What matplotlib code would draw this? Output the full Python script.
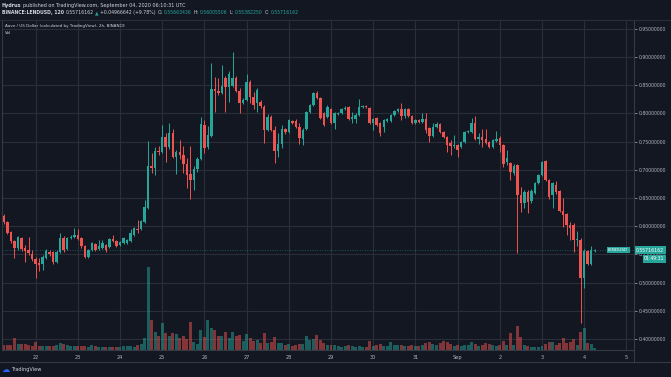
import matplotlib
matplotlib.use("Agg")
import matplotlib.pyplot as plt
import matplotlib.dates as mdates
from matplotlib.lines import Line2D
from matplotlib.transforms import blended_transform_factory
import pandas as pd

# -- 2h candles, LEND/USD (Binance), 21 Aug 06:00 -> 4 Sep 06:00
opens = [.618, .607, .590, .574, .561, .579, .561, .558, .551, .542,
         .535, .533, .544, .554, .554, .537, .554, .579, .560, .579,
         .581, .584, .579, .565, .545, .558, .569, .560, .561, .567,
         .563, .577, .574, .567, .570, .570, .574, .584, .595, .595,
         .607, .632, .707, .703, .733, .732, .758, .741, .765, .723,
         .732, .726, .710, .693, .682, .701, .719, .780, .741, .760,
         .843, .840, .836, .863, .847, .849, .863, .840, .818, .824,
         .856, .829, .818, .820, .811, .771, .794, .771, .733, .746,
         .772, .767, .787, .787, .776, .755, .772, .803, .815, .836,
         .827, .801, .794, .808, .783, .799, .801, .808, .811, .790,
         .790, .797, .811, .813, .810, .783, .792, .783, .776, .787,
         .787, .797, .804, .808, .795, .808, .795, .783, .788, .785,
         .790, .774, .760, .776, .781, .767, .758, .748, .742, .744,
         .741, .749, .767, .767, .783, .755, .758, .755, .749, .741,
         .751, .756, .744, .714, .712, .694, .709, .655, .641, .661,
         .645, .659, .677, .691, .716, .682, .655, .673, .662, .627,
         .622, .602, .602, .576, .576, .508, .556, .533, .5566]
closes = [.607, .588, .574, .561, .581, .560, .556, .553, .542, .533,
          .531, .545, .556, .551, .537, .554, .579, .558, .579, .581,
          .584, .577, .565, .545, .558, .570, .558, .565, .570, .558,
          .577, .574, .565, .572, .579, .576, .588, .597, .593, .609,
          .634, .707, .703, .733, .732, .758, .741, .765, .723, .732,
          .726, .710, .691, .682, .701, .719, .781, .739, .762, .843,
          .840, .836, .849, .847, .870, .863, .840, .818, .824, .856,
          .829, .815, .842, .813, .771, .794, .771, .733, .746, .772,
          .767, .788, .783, .776, .756, .771, .803, .815, .836, .827,
          .792, .780, .811, .783, .801, .801, .808, .810, .790, .794,
          .797, .811, .813, .811, .783, .790, .780, .765, .788, .790,
          .797, .804, .808, .795, .808, .795, .783, .788, .785, .790,
          .771, .760, .776, .781, .767, .758, .744, .742, .744, .735,
          .749, .767, .769, .783, .755, .758, .753, .748, .741, .753,
          .755, .744, .710, .721, .696, .707, .655, .641, .661, .643,
          .662, .677, .691, .714, .682, .652, .677, .661, .627, .620,
          .602, .597, .576, .577, .508, .556, .533, .558, .5572]
highs = [.622, .609, .591, .576, .583, .581, .567, .581, .558, .545,
         .544, .549, .560, .558, .556, .558, .588, .583, .581, .584,
         .597, .595, .581, .567, .560, .572, .570, .576, .576, .569,
         .579, .584, .576, .574, .581, .577, .595, .599, .611, .611,
         .646, .751, .730, .741, .742, .780, .765, .783, .772, .735,
         .753, .742, .721, .742, .707, .723, .794, .788, .778, .889,
         .865, .863, .886, .866, .875, .909, .866, .845, .827, .870,
         .859, .838, .845, .824, .815, .799, .797, .778, .765, .780,
         .774, .790, .788, .790, .783, .774, .804, .817, .838, .840,
         .829, .803, .815, .810, .803, .803, .810, .813, .813, .803,
         .801, .826, .815, .815, .811, .792, .794, .785, .790, .792,
         .799, .806, .810, .818, .810, .810, .797, .790, .790, .801,
         .801, .776, .783, .785, .783, .769, .760, .753, .762, .746,
         .751, .769, .771, .792, .795, .765, .772, .772, .751, .755,
         .769, .760, .746, .735, .714, .710, .710, .670, .664, .664,
         .666, .678, .693, .716, .717, .684, .678, .680, .664, .650,
         .624, .607, .606, .591, .579, .560, .558, .565, .5601]
lows = [.604, .586, .570, .544, .558, .556, .537, .549, .538, .508,
        .521, .522, .542, .547, .533, .535, .553, .554, .558, .577,
        .579, .576, .561, .544, .544, .556, .556, .558, .560, .554,
        .561, .572, .563, .565, .569, .569, .572, .583, .588, .593,
        .606, .631, .694, .691, .726, .730, .714, .737, .721, .693,
        .719, .694, .668, .648, .664, .696, .717, .730, .737, .758,
        .803, .833, .834, .803, .820, .847, .838, .801, .817, .822,
        .818, .808, .803, .810, .748, .769, .769, .712, .723, .739,
        .764, .765, .781, .774, .746, .744, .771, .801, .813, .826,
        .790, .778, .792, .781, .772, .797, .799, .806, .788, .783,
        .783, .795, .810, .810, .781, .771, .778, .760, .767, .785,
        .785, .795, .803, .788, .792, .794, .781, .781, .783, .783,
        .765, .749, .758, .774, .765, .756, .732, .726, .739, .723,
        .739, .748, .765, .765, .753, .746, .741, .746, .739, .739,
        .749, .732, .705, .709, .682, .691, .553, .625, .632, .624,
        .641, .657, .675, .689, .680, .648, .632, .657, .625, .599,
        .584, .576, .554, .565, .428, .491, .531, .531, .5538]
volumes = [5, 5, 5, 12, 6, 6, 6, 5, 4, 8,
           4, 4, 4, 4, 4, 5, 7, 6, 5, 4,
           4, 4, 4, 4, 3, 5, 4, 3, 3, 3,
           3, 3, 3, 3, 4, 4, 4, 3, 5, 6,
           12, 83, 30, 18, 14, 27, 17, 14, 17, 16,
           12, 14, 11, 28, 8, 6, 20, 13, 30, 22,
           20, 14, 14, 18, 12, 18, 14, 15, 9, 16,
           12, 9, 10, 7, 17, 7, 8, 13, 7, 7,
           5, 6, 4, 5, 6, 6, 14, 10, 11, 15,
           10, 7, 5, 5, 5, 4, 3, 4, 5, 4,
           3, 4, 3, 3, 9, 4, 5, 6, 4, 4,
           8, 5, 5, 5, 4, 4, 5, 4, 4, 5,
           7, 8, 6, 5, 7, 9, 8, 6, 4, 5,
           4, 5, 5, 8, 6, 4, 5, 7, 6, 5,
           4, 5, 9, 5, 17, 5, 24, 13, 5, 4,
           3, 3, 3, 4, 6, 8, 8, 5, 7, 12,
           7, 8, 11, 5, 18, 22, 7, 6, 2]

price_ticks = [0.40, 0.45, 0.50, 0.55, 0.60, 0.65, 0.70, 0.75, 0.80, 0.85, 0.90, 0.95]
day_labels = ["22", "23", "24", "25", "26", "27", "28", "29", "30", "31",
              "Sep", "2", "3", "4", "5"]
last_price = 0.55716162

BG = "#131722"
UP = "#26a69a"
DOWN = "#ef5350"
GRID = "#2a2e39"
TXT = "#b2b5be"

W, H = 671, 377
fig = plt.figure(figsize=(W / 100, H / 100), dpi=100, facecolor=BG)


def rect(x0, y0, x1, y1):
    return [x0 / W, 1 - y1 / H, (x1 - x0) / W, (y1 - y0) / H]


ax = fig.add_axes(rect(2, 20, 634, 350))
ax.set_facecolor(BG)

times = pd.date_range("2020-08-21 06:00", periods=len(closes), freq="2h")
x = mdates.date2num(times)
day0 = mdates.date2num(pd.Timestamp("2020-08-22"))
ax.set_xlim(day0 - 0.796, day0 + 14.18)
ax.set_ylim(0.3806, 0.9656)

cols = [UP if c >= o else DOWN for o, c in zip(opens, closes)]
w = 0.7 / 12

# volume overlay (bottom of the pane)
vscale = 0.252 / max(volumes)
trans = blended_transform_factory(ax.transData, ax.transAxes)
ax.bar(x, [v * vscale for v in volumes], width=0.85 / 12, bottom=0,
       color=cols, alpha=0.5, transform=trans, zorder=1)

# candles
ax.vlines(x, lows, highs, colors=cols, linewidth=0.7, zorder=2)
bottoms = [min(o, c) for o, c in zip(opens, closes)]
heights = [max(abs(c - o), 0.0012) for o, c in zip(opens, closes)]
ax.bar(x, heights, width=w, bottom=bottoms, color=cols, zorder=3)

ax.axhline(last_price, color=UP, linewidth=0.6, linestyle=(0, (1, 2)), alpha=0.6, zorder=2)

# axes styling
ax.set_axisbelow(True)
ax.grid(True, color=GRID, linewidth=0.8)
ax.set_yticks(price_ticks)
ax.set_yticklabels([f"{p:.8f}" for p in price_ticks])
ax.yaxis.tick_right()
ax.set_xticks(mdates.date2num(pd.date_range("2020-08-22", "2020-09-05", freq="D")))
ax.set_xticklabels(day_labels)
ax.tick_params(axis="y", colors=TXT, labelsize=3.3, length=2, width=0.5, pad=1.5)
ax.tick_params(axis="x", colors=TXT, labelsize=3.6, length=0, pad=3.5)
for side in ["top", "left", "right", "bottom"]:
    ax.spines[side].set_color("#363a45")
    ax.spines[side].set_linewidth(0.8)
ax.spines["top"].set_visible(False)

# frame lines around time axis / price axis
fig.add_artist(Line2D([0, 1], [1 - 362 / H] * 2, color="#363a45", linewidth=0.8))
fig.add_artist(Line2D([634 / W] * 2, [1 - 362 / H, 1 - 20 / H], color="#363a45", linewidth=0.8))
fig.add_artist(Line2D([0, 1], [1 - 19.5 / H] * 2, color="#2a2e39", linewidth=0.8))

renderer = fig.canvas.get_renderer()


def seq_text(x0, y0, parts, fs):
    xp = x0
    for s, col, bold in parts:
        t = fig.text(xp / W, 1 - y0 / H, s, color=col, fontsize=fs,
                     fontweight="bold" if bold else "normal", va="center", ha="left")
        xp += t.get_window_extent(renderer=renderer).width + 1.6


seq_text(2, 5.5, [("Hydrus", "#d1d4dc", True),
                  ("published on TradingView.com, September 04, 2020 06:10:31 UTC", "#d1d4dc", False)], 3.5)
seq_text(2, 12.8, [("BINANCE:LENDUSD, 120", "#d1d4dc", True),
                   ("0.55716162", "#d1d4dc", False),
                   ("\u25b2", UP, False),
                   ("+0.04966642 (+9.78%)", "#d1d4dc", False),
                   ("O:", "#d1d4dc", False), ("0.55663436", UP, False),
                   ("H:", "#d1d4dc", False), ("0.56005506", UP, False),
                   ("L:", "#d1d4dc", False), ("0.55382250", UP, False),
                   ("C:", "#d1d4dc", False), ("0.55716162", UP, False)], 3.3)

fig.text(5 / W, 1 - 25.5 / H, "Aave / US Dollar (calculated by TradingView), 2h, BINANCE",
         color="#d1d4dc", fontsize=3.0, va="center", ha="left")
fig.text(5 / W, 1 - 33 / H, "Vol", color="#d1d4dc", fontsize=3.0, va="center", ha="left")

# last price labels
box = dict(boxstyle="square,pad=0.3", fc=UP, ec="none")
fig.text(636 / W, 1 - 250 / H, "0.55716162", color="white", fontsize=3.3, va="center", ha="left", bbox=box)
fig.text(644 / W, 1 - 259 / H, "01:49:31", color="white", fontsize=3.3, va="center", ha="left", bbox=box)
fig.text(608 / W, 1 - 250 / H, "LENDUSD", color="white", fontsize=3.1, va="center", ha="left", bbox=box)

# footer
fig.text(2 / W, 1 - 370 / H, "\u2601", color="#2962ff", fontsize=6, va="center", ha="left")
fig.text(11 / W, 1 - 370 / H, "TradingView", color="#d1d4dc", fontsize=3.6, va="center", ha="left")

fig.savefig("out.png", dpi=100, facecolor=BG)
